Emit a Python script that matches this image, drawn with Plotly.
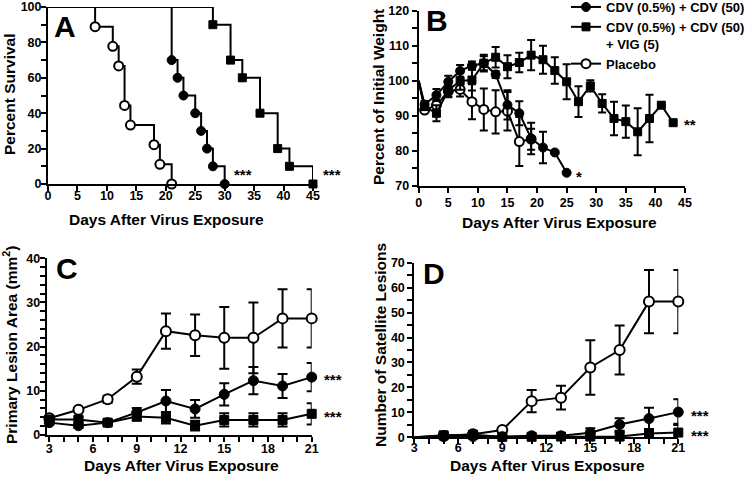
import plotly.graph_objects as go

# ---------------- Panel A: survival ----------------
surv_days_placebo = [0, 8, 11, 12, 13, 14, 18, 19, 21]
surv_placebo = [100, 88.9, 77.8, 66.7, 44.4, 33.3, 22.2, 11.1, 0]
surv_days_cdv = [0, 21, 22, 23, 25, 26, 27, 28, 30]
surv_cdv = [100, 70, 60, 50, 40, 30, 20, 10, 0]
surv_days_vig = [0, 28, 31, 33, 36, 39, 41, 45]
surv_vig = [100, 90, 70, 60, 40, 20, 10, 0]

# ---------------- Panel B: weight ----------------
wt_days_cdv = [0, 1, 3, 5, 7, 9, 11, 13, 15, 17, 19, 21, 23, 25]
wt_cdv = [100, 93.2, 95.9, 99.7, 102.8, 104.3, 105, 101.8, 93.1, 90.7, 83.5, 80.9, 79.5, 73.7]
wt_cdv_err = [0, 1, 1.7, 1.7, 1.7, 1.2, 2, 1, 4.2, 3.4, 4.5, 4.5, 0, 0]
wt_days_vig = [0, 1, 3, 5, 7, 9, 11, 13, 15, 17, 19, 21, 23, 25, 27, 29, 31, 33, 35, 37, 39, 41, 43]
wt_vig = [100, 92.6, 90.7, 97.3, 99.9, 100.2, 105, 106.7, 104, 105.2, 107.3, 106, 102.9,
          99.7, 94, 98.5, 93.5, 89.2, 88.3, 85.4, 89.2, 93, 88]
wt_vig_err = [0, 1, 2.3, 2, 2.5, 3, 2.4, 2.9, 3.3, 2.8, 4.3, 4, 3.8, 5, 4.4, 1.6, 2.6,
              4.8, 4.6, 6.7, 6.8, 0, 0]
wt_days_placebo = [0, 1, 3, 5, 7, 9, 11, 13, 15, 17, 19]
wt_placebo = [100, 91.6, 93, 97, 97.5, 94, 91.8, 91.1, 91.3, 82.6, 83.3]
wt_placebo_err = [0, 0.5, 1.5, 1.5, 2, 5, 6, 6.2, 5.5, 7, 3]

# ---------------- Panel C: primary lesion area ----------------
les_days = [3, 5, 7, 9, 11, 13, 15, 17, 19, 21]
les_placebo = [3.8, 5.7, 8.1, 13.2, 23.5, 22.6, 22.0, 22.0, 26.4, 26.4]
les_placebo_err = [0.3, 0.4, 0.8, 1.6, 4, 4.7, 7, 8, 6.6, 6.6]
les_cdv = [2.8, 2.1, 2.8, 5.1, 7.7, 5.9, 9.2, 12.3, 11.1, 13.1]
les_cdv_err = [0.5, 0.5, 0.5, 1, 2.5, 2, 2.5, 3.1, 2.7, 3.2]
les_vig = [3.5, 3.5, 2.8, 4.2, 3.9, 2.1, 3.4, 3.4, 3.4, 4.8]
les_vig_err = [0.5, 0.5, 0.6, 1, 1.3, 1.1, 1.5, 1.5, 1.5, 2.4]

# ---------------- Panel D: satellite lesions ----------------
sat_days = [5, 7, 9, 11, 13, 15, 17, 19, 21]
sat_placebo = [0.5, 1.2, 2.9, 14.5, 15.9, 28, 35, 54.4, 54.4]
sat_placebo_err = [0.5, 0.8, 0.5, 4.5, 4.8, 10.9, 9.8, 12.7, 12.7]
sat_cdv = [0.4, 0.3, 0.2, 0.6, 0.6, 1.8, 5.1, 7.5, 10.1]
sat_cdv_err = [0.8, 0.8, 0.2, 0.3, 0.5, 1.8, 2.5, 4.3, 5.2]
sat_vig = [0.8, 1.0, 0.2, 0.2, 0.3, 0.3, 0.3, 1.5, 1.9]
sat_vig_err = [1, 1, 0.2, 0.2, 0.3, 0.3, 1.8, 1.8, 3.5]

legend_names = ["CDV (0.5%) + CDV (50)", "CDV (0.5%) + CDV (50)<br>+ VIG (5)", "Placebo"]

W, H = 750, 481
FONT = "Liberation Sans, Arial, sans-serif"


def px(xp):
    return xp / W


def py(yp):
    return 1 - yp / H


BLACK = "black"
fig = go.Figure()


def mk(kind, size):
    if kind == "cdv":
        return dict(symbol="circle", size=size, color=BLACK, line=dict(color=BLACK, width=1))
    if kind == "vig":
        return dict(symbol="square", size=size - 1, color=BLACK, line=dict(color=BLACK, width=1))
    return dict(symbol="circle", size=size, color="white", line=dict(color=BLACK, width=2))


# ---- Panel A ----
for d, v, kind in [(surv_days_placebo, surv_placebo, "placebo"),
                   (surv_days_cdv, surv_cdv, "cdv"),
                   (surv_days_vig, surv_vig, "vig")]:
    fig.add_trace(go.Scatter(x=d, y=v, mode="lines", line=dict(color=BLACK, width=2, shape="hv"),
                             xaxis="x", yaxis="y", showlegend=False, cliponaxis=False))
    fig.add_trace(go.Scatter(x=d[1:], y=v[1:], mode="markers", marker=mk(kind, 9),
                             xaxis="x", yaxis="y", showlegend=False, cliponaxis=False))

# ---- Panel B ----
for d, v, e, kind, name, rank in [
        (wt_days_placebo, wt_placebo, wt_placebo_err, "placebo", legend_names[2], 3),
        (wt_days_cdv, wt_cdv, wt_cdv_err, "cdv", legend_names[0], 1),
        (wt_days_vig, wt_vig, wt_vig_err, "vig", legend_names[1], 2)]:
    fig.add_trace(go.Scatter(x=d[:2], y=v[:2], mode="lines", line=dict(color=BLACK, width=2),
                             xaxis="x2", yaxis="y2", showlegend=False, cliponaxis=False))
    fig.add_trace(go.Scatter(x=d[1:], y=v[1:], mode="lines+markers", name=name, legendrank=rank,
                             line=dict(color=BLACK, width=2), marker=mk(kind, 9),
                             error_y=dict(type="data", array=e[1:], color=BLACK, thickness=2, width=4),
                             xaxis="x2", yaxis="y2", showlegend=True, cliponaxis=False))

# ---- Panel C ----
for v, e, kind in [(les_placebo, les_placebo_err, "placebo"),
                   (les_cdv, les_cdv_err, "cdv"),
                   (les_vig, les_vig_err, "vig")]:
    fig.add_trace(go.Scatter(x=les_days, y=v, mode="lines+markers",
                             line=dict(color=BLACK, width=2), marker=mk(kind, 10),
                             error_y=dict(type="data", array=e, color=BLACK, thickness=2, width=5),
                             xaxis="x3", yaxis="y3", showlegend=False, cliponaxis=False))

# ---- Panel D ----
for v, e, kind in [(sat_placebo, sat_placebo_err, "placebo"),
                   (sat_cdv, sat_cdv_err, "cdv"),
                   (sat_vig, sat_vig_err, "vig")]:
    fig.add_trace(go.Scatter(x=[3, sat_days[0]], y=[0, v[0]], mode="lines",
                             line=dict(color=BLACK, width=2),
                             xaxis="x4", yaxis="y4", showlegend=False, cliponaxis=False))
    fig.add_trace(go.Scatter(x=sat_days, y=v, mode="lines+markers",
                             line=dict(color=BLACK, width=2), marker=mk(kind, 10),
                             error_y=dict(type="data", array=e, color=BLACK, thickness=2, width=5),
                             xaxis="x4", yaxis="y4", showlegend=False, cliponaxis=False))

tickfont = dict(family=FONT, size=12.5, color=BLACK, weight="bold")


def axis(domain, rng, dtick, minor=None, anchor=None, tick0=None, standoff=0):
    a = dict(domain=domain, range=rng, dtick=dtick, showline=True, linecolor=BLACK, linewidth=2,
             ticks="outside", ticklen=5, tickwidth=2, tickcolor=BLACK, showgrid=False,
             zeroline=False, tickfont=tickfont, anchor=anchor, fixedrange=True,
             automargin=False, ticklabeloverflow="allow", ticklabelstandoff=standoff)
    if tick0 is not None:
        a["tick0"] = tick0
    if minor is not None:
        a["minor"] = dict(dtick=minor, ticks="outside", ticklen=5, tickwidth=2, tickcolor=BLACK,
                          showgrid=False)
    return a


fig.update_layout(
    width=W, height=H, margin=dict(l=0, r=0, t=0, b=0, autoexpand=False),
    paper_bgcolor="white", plot_bgcolor="white",
    font=dict(family=FONT, color=BLACK),
    xaxis=axis([px(48), px(313)], [0, 45], 5, anchor="y", standoff=-6),
    yaxis=axis([py(184), py(7)], [0, 100], 20, minor=10, anchor="x", standoff=-3),
    xaxis2=axis([px(418.7), px(685)], [0, 45], 5, anchor="y2", standoff=-1),
    yaxis2=axis([py(185.7), py(10.7)], [70, 120], 10, minor=5, anchor="x2"),
    xaxis3=axis([px(46.7), px(311.7)], [2.82, 21], 3, minor=1, anchor="y3", tick0=0, standoff=-4),
    yaxis3=axis([py(435), py(258.3)], [0, 40], 10, minor=2, anchor="x3", standoff=-3),
    xaxis4=axis([px(414.3), px(678.3)], [3, 21], 3, minor=1, anchor="y4", tick0=0, standoff=-7),
    yaxis4=axis([py(437.3), py(262.7)], [0, 70], 10, minor=5, anchor="x4"),
    legend=dict(x=1.0, y=py(-8), xanchor="right", yanchor="top", bgcolor="rgba(0,0,0,0)",
                font=dict(family=FONT, size=13, color=BLACK, weight="bold"),
                tracegroupgap=0, valign="top", traceorder="normal"),
)

ann = []


def text(x, y, s, size=14, angle=0, xanchor="center"):
    ann.append(dict(x=px(x), y=py(y), xref="paper", yref="paper", text=s, showarrow=False,
                    textangle=angle, xanchor=xanchor, yanchor="middle",
                    font=dict(family=FONT, size=size, color=BLACK, weight="bold")))


# panel letters
text(65, 26, "A", 30)
text(437, 20, "B", 30)
text(67, 268, "C", 30)
text(434, 273, "D", 30)
# axis titles
TS = 15.5
text(9, 95, "Percent Survival", TS, -90)
text(166, 219, "Days After Virus Exposure", TS)
text(379, 97, "Percent of Initial Weight", TS, -90)
text(559, 222, "Days After Virus Exposure", TS)
text(10, 345, "Primary Lesion Area (mm<sup>2</sup>)", TS, -90)
text(181, 465, "Days After Virus Exposure", TS)
text(380, 345, "Number of Satellite Lesions", TS, -90)
text(547, 465, "Days After Virus Exposure", TS)

# significance stars (pixel positions)
text(243, 174, "***", 15)
text(332, 174, "***", 15)
text(579, 176, "*", 15)
text(690, 125, "**", 15)
text(333, 379, "***", 15)
text(333, 416, "***", 15)
text(700, 415, "***", 15)
text(700, 435, "***", 15)

fig.update_layout(annotations=ann)
fig.write_html("out.html", config={"displayModeBar": False},
               post_script="document.body.style.margin='0';document.body.style.padding='0';")
